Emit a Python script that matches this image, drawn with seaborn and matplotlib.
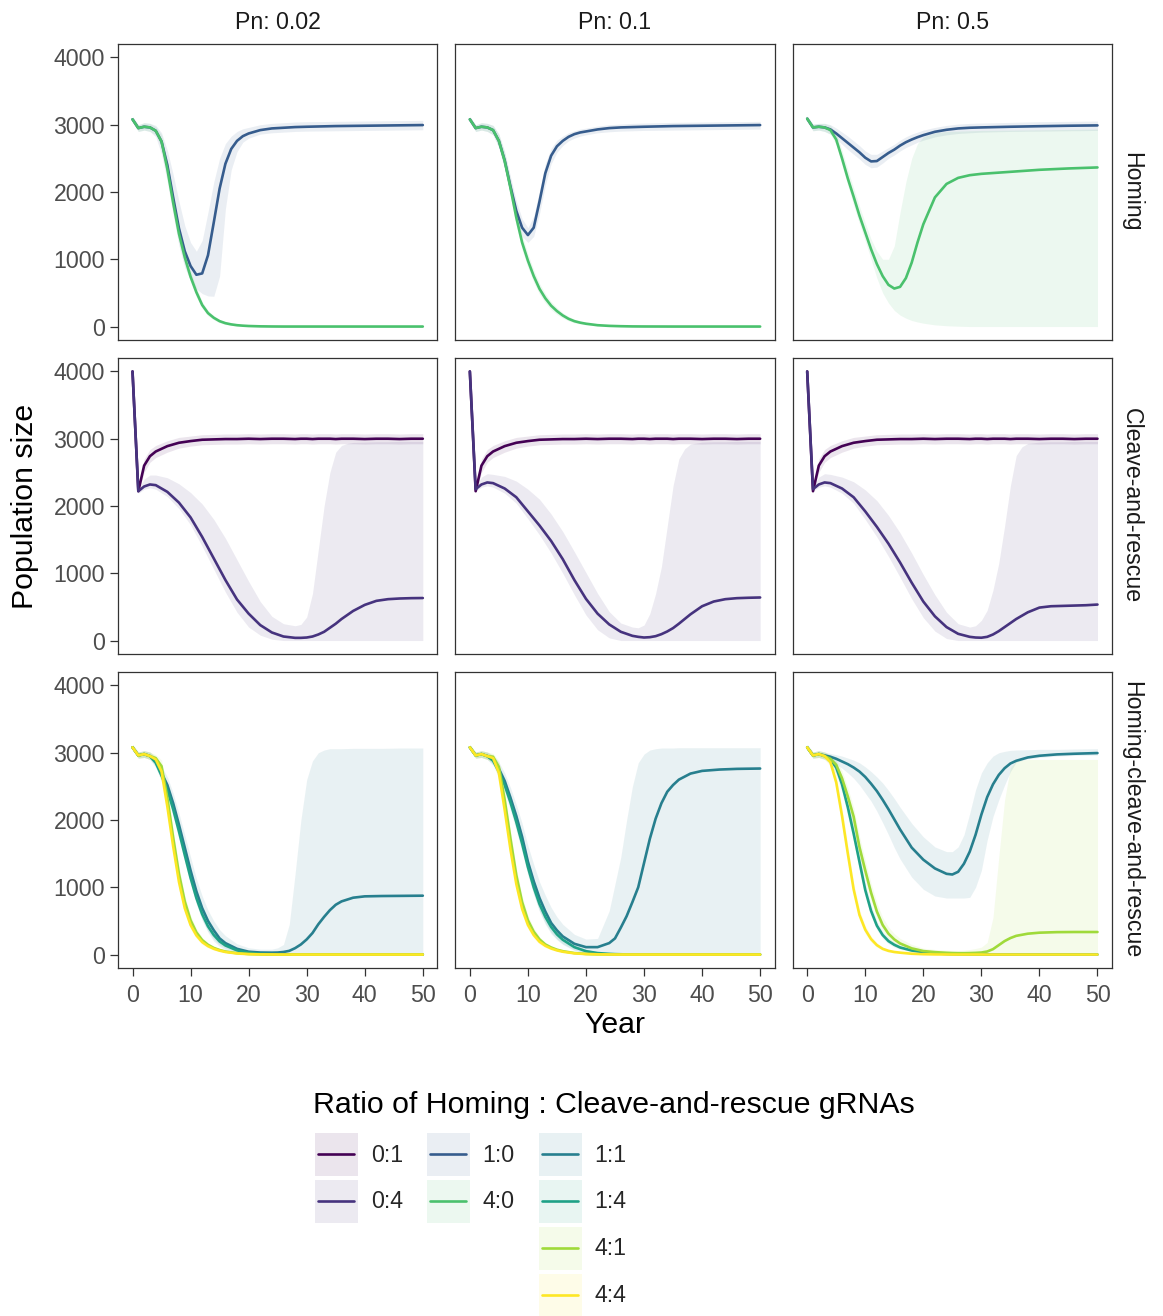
import matplotlib
matplotlib.use("Agg")
import matplotlib.pyplot as plt
import pandas as pd
import seaborn as sns
from matplotlib.patches import Patch, Rectangle
from matplotlib.lines import Line2D
from matplotlib.legend_handler import HandlerBase

# ---------------- labels ----------------
SCENARIOS = ["Homing", "Cleave-and-rescue", "Homing-cleave-and-rescue"]
PN_LABELS = ["Pn: 0.02", "Pn: 0.1", "Pn: 0.5"]
RATIOS = ["0:1", "0:4", "1:0", "1:1", "1:4", "4:0", "4:1", "4:4"]
COLORS = ["#440154", "#46337E", "#365C8D", "#277F8E", "#1FA187", "#4AC16D", "#9FDA3A", "#FDE725"]
X_TICKS = [0, 10, 20, 30, 40, 50]
Y_TICKS = [0, 1000, 2000, 3000, 4000]

# ---------------- year grids ----------------
YEARS_H = [0, 1, 2, 3, 4, 5, 6, 7, 8, 9, 10, 11, 12, 13, 14, 15, 16, 17, 18, 19, 20, 22, 24, 26, 28, 30, 35, 40, 45, 50]
YEARS_C = [0, 1, 2, 3, 4, 6, 8, 10, 12, 14, 16, 18, 20, 22, 24, 26, 28, 29, 30, 31, 32, 33, 34, 35, 36, 37, 38, 40, 42, 44, 46, 48, 50]
YEARS_HC = [0, 1, 2, 3, 4, 5, 6, 7, 8, 9, 10, 11, 12, 13, 14, 15, 16, 18, 20, 22, 24, 25, 26, 27, 28, 29, 30, 31, 32, 33, 34, 35, 36, 38, 40, 43, 46, 50]

# ---------------- Homing ----------------
H1_10 = [3080, 2950, 2970, 2960, 2910, 2750, 2400, 1920, 1460, 1120, 900, 770, 790, 1060, 1550, 2050, 2420, 2640, 2760, 2830, 2870, 2920, 2945, 2955, 2965, 2970, 2980, 2985, 2990, 2995]
H1_10_LO = [3040, 2900, 2920, 2900, 2820, 2560, 2150, 1660, 1200, 880, 680, 560, 490, 455, 450, 750, 1750, 2330, 2600, 2740, 2800, 2860, 2880, 2890, 2900, 2905, 2910, 2915, 2920, 2925]
H1_10_HI = [3120, 3000, 3030, 3020, 2990, 2880, 2620, 2260, 1860, 1500, 1250, 1120, 1280, 1700, 2150, 2500, 2720, 2830, 2900, 2940, 2960, 3000, 3020, 3030, 3040, 3045, 3050, 3055, 3060, 3065]
H1_40 = [3080, 2950, 2970, 2960, 2910, 2750, 2340, 1840, 1380, 1030, 740, 510, 320, 200, 130, 80, 50, 32, 20, 13, 8, 3, 1, 0, 0, 0, 0, 0, 0, 0]
H1_40_LO = [3040, 2900, 2920, 2900, 2850, 2660, 2220, 1720, 1270, 930, 660, 440, 270, 160, 100, 55, 30, 18, 10, 5, 2, 0, 0, 0, 0, 0, 0, 0, 0, 0]
H1_40_HI = [3120, 3000, 3030, 3020, 2970, 2850, 2460, 1960, 1490, 1130, 820, 580, 370, 240, 160, 105, 70, 48, 32, 22, 15, 7, 3, 1, 0, 0, 0, 0, 0, 0]

H2_10 = [3080, 2950, 2970, 2960, 2920, 2760, 2470, 2080, 1720, 1470, 1360, 1470, 1860, 2280, 2540, 2680, 2760, 2820, 2860, 2885, 2900, 2930, 2950, 2960, 2965, 2970, 2980, 2985, 2990, 2995]
H2_10_LO = [3040, 2900, 2920, 2900, 2850, 2660, 2340, 1940, 1590, 1340, 1250, 1340, 1680, 2100, 2420, 2590, 2690, 2760, 2800, 2830, 2850, 2880, 2895, 2905, 2910, 2915, 2920, 2925, 2930, 2935]
H2_10_HI = [3120, 3000, 3030, 3020, 2990, 2860, 2600, 2230, 1870, 1600, 1470, 1640, 2020, 2420, 2650, 2770, 2830, 2880, 2910, 2935, 2950, 2980, 3000, 3010, 3020, 3025, 3035, 3040, 3045, 3050]
H2_40 = [3080, 2950, 2970, 2960, 2920, 2760, 2460, 2060, 1620, 1250, 980, 750, 560, 420, 310, 230, 165, 115, 80, 58, 42, 20, 10, 5, 2, 1, 0, 0, 0, 0]
H2_40_LO = [3040, 2900, 2920, 2900, 2850, 2660, 2340, 1930, 1500, 1140, 880, 660, 480, 350, 250, 180, 125, 85, 55, 38, 25, 10, 4, 1, 0, 0, 0, 0, 0, 0]
H2_40_HI = [3120, 3000, 3030, 3020, 2990, 2860, 2580, 2190, 1740, 1360, 1080, 840, 640, 490, 370, 280, 205, 150, 110, 80, 60, 32, 18, 10, 5, 3, 1, 0, 0, 0]

H3_10 = [3090, 2960, 2970, 2960, 2930, 2870, 2800, 2730, 2660, 2590, 2510, 2455, 2460, 2520, 2580, 2630, 2690, 2740, 2780, 2815, 2845, 2895, 2925, 2945, 2955, 2960, 2970, 2978, 2985, 2990]
H3_10_LO = [3050, 2910, 2920, 2900, 2860, 2790, 2710, 2630, 2560, 2490, 2410, 2360, 2370, 2430, 2500, 2550, 2610, 2660, 2700, 2740, 2770, 2820, 2850, 2870, 2880, 2890, 2900, 2905, 2910, 2915]
H3_10_HI = [3130, 3010, 3020, 3020, 3000, 2950, 2890, 2830, 2760, 2690, 2610, 2560, 2560, 2610, 2660, 2710, 2770, 2820, 2860, 2890, 2920, 2960, 2990, 3010, 3020, 3025, 3035, 3045, 3050, 3055]
H3_40 = [3090, 2960, 2970, 2960, 2920, 2780, 2500, 2200, 1930, 1650, 1400, 1150, 930, 750, 620, 565, 590, 720, 950, 1250, 1520, 1920, 2120, 2210, 2250, 2270, 2300, 2330, 2350, 2365]
H3_40_LO = [3050, 2910, 2920, 2900, 2860, 2700, 2400, 2100, 1800, 1530, 1270, 1000, 720, 500, 350, 240, 170, 125, 90, 68, 50, 25, 12, 5, 0, 0, 0, 0, 0, 0]
H3_40_HI = [3130, 3010, 3020, 3020, 2990, 2870, 2620, 2330, 2060, 1790, 1540, 1300, 1120, 1000, 1000, 1200, 1700, 2150, 2500, 2720, 2820, 2880, 2900, 2905, 2910, 2915, 2920, 2925, 2930, 2935]

# ---------------- Cleave-and-rescue ----------------
C_01 = [4000, 2220, 2600, 2740, 2810, 2890, 2940, 2965, 2985, 2990, 2995, 2995, 3000, 2995, 3000, 3000, 2995, 3000, 3000, 2995, 3000, 3000, 3000, 2995, 3000, 3000, 3000, 2995, 3000, 3000, 2995, 3000, 3000]
C_01_LO = [4000, 2190, 2500, 2650, 2720, 2800, 2860, 2890, 2910, 2915, 2920, 2920, 2925, 2920, 2925, 2925, 2920, 2925, 2925, 2920, 2925, 2925, 2925, 2920, 2925, 2925, 2925, 2920, 2925, 2925, 2920, 2925, 2925]
C_01_HI = [4000, 2260, 2700, 2840, 2900, 2970, 3020, 3040, 3060, 3065, 3070, 3070, 3075, 3070, 3075, 3075, 3070, 3075, 3075, 3070, 3075, 3075, 3075, 3070, 3075, 3075, 3075, 3070, 3075, 3075, 3070, 3075, 3075]

C1_04 = [4000, 2220, 2290, 2320, 2310, 2210, 2050, 1830, 1540, 1220, 900, 610, 400, 230, 120, 60, 40, 40, 45, 60, 90, 130, 190, 250, 320, 380, 440, 530, 590, 615, 625, 630, 632]
C1_04_LO = [4000, 2190, 2250, 2270, 2250, 2140, 1960, 1720, 1400, 1060, 720, 420, 200, 80, 20, 0, 0, 0, 0, 0, 0, 0, 0, 0, 0, 0, 0, 0, 0, 0, 0, 0, 0]
C1_04_HI = [4000, 2250, 2400, 2460, 2460, 2420, 2330, 2200, 2030, 1800, 1520, 1200, 880, 580, 360, 250, 220, 240, 350, 700, 1350, 2000, 2500, 2800, 2900, 2930, 2945, 2950, 2955, 2955, 2960, 2960, 2960]

C2_04 = [4000, 2250, 2320, 2350, 2340, 2260, 2130, 1920, 1710, 1480, 1210, 900, 620, 400, 240, 130, 70, 55, 45, 50, 65, 95, 135, 185, 250, 320, 390, 510, 580, 615, 630, 636, 640]
C2_04_LO = [4000, 2220, 2280, 2300, 2280, 2190, 2040, 1810, 1570, 1300, 1000, 680, 380, 160, 40, 0, 0, 0, 0, 0, 0, 0, 0, 0, 0, 0, 0, 0, 0, 0, 0, 0, 0]
C2_04_HI = [4000, 2280, 2430, 2480, 2470, 2440, 2370, 2250, 2100, 1880, 1620, 1320, 1010, 700, 430, 260, 200, 190, 230, 400, 700, 1100, 1700, 2300, 2700, 2850, 2920, 2950, 2955, 2955, 2960, 2960, 2960]

C3_04 = [4000, 2250, 2320, 2350, 2340, 2260, 2130, 1920, 1690, 1440, 1160, 860, 580, 360, 200, 100, 55, 45, 42, 55, 90, 140, 200, 260, 320, 370, 420, 490, 510, 515, 520, 525, 535]
C3_04_LO = [4000, 2220, 2280, 2300, 2280, 2190, 2040, 1800, 1540, 1250, 940, 620, 340, 140, 30, 0, 0, 0, 0, 0, 0, 0, 0, 0, 0, 0, 0, 0, 0, 0, 0, 0, 0]
C3_04_HI = [4000, 2280, 2430, 2480, 2470, 2430, 2360, 2240, 2080, 1860, 1600, 1300, 980, 680, 420, 250, 200, 220, 300, 450, 750, 1150, 1700, 2300, 2750, 2880, 2930, 2950, 2955, 2955, 2960, 2960, 2960]

# ---------------- Homing-cleave-and-rescue ----------------
HC1_11 = [3080, 2960, 2980, 2950, 2870, 2700, 2520, 2250, 1930, 1590, 1250, 940, 690, 500, 360, 240, 170, 85, 42, 30, 28, 30, 38, 55, 95, 150, 225, 320, 450, 560, 660, 740, 790, 845, 865, 870, 872, 875]
HC1_11_LO = [3040, 2920, 2930, 2900, 2800, 2600, 2400, 2110, 1780, 1420, 1070, 760, 510, 330, 200, 120, 70, 20, 0, 0, 0, 0, 0, 0, 0, 0, 0, 0, 0, 0, 0, 0, 0, 0, 0, 0, 0, 0]
HC1_11_HI = [3120, 3010, 3030, 3010, 2940, 2800, 2640, 2400, 2100, 1780, 1450, 1130, 870, 660, 500, 370, 280, 160, 100, 80, 80, 100, 150, 450, 1200, 2000, 2600, 2880, 3000, 3040, 3060, 3060, 3060, 3065, 3065, 3065, 3070, 3070]
HC1_14 = [3080, 2960, 2980, 2950, 2850, 2660, 2450, 2160, 1830, 1480, 1140, 840, 600, 420, 290, 195, 135, 62, 27, 11, 5, 3, 2, 1, 0, 0, 0, 0, 0, 0, 0, 0, 0, 0, 0, 0, 0, 0]
HC1_14_LO = [3040, 2920, 2930, 2900, 2780, 2570, 2350, 2050, 1720, 1370, 1040, 750, 520, 350, 230, 145, 95, 35, 10, 2, 0, 0, 0, 0, 0, 0, 0, 0, 0, 0, 0, 0, 0, 0, 0, 0, 0, 0]
HC1_14_HI = [3120, 3010, 3030, 3010, 2920, 2750, 2550, 2270, 1940, 1590, 1250, 940, 690, 500, 360, 250, 180, 95, 50, 25, 12, 8, 5, 3, 2, 1, 0, 0, 0, 0, 0, 0, 0, 0, 0, 0, 0, 0]
HC1_41 = [3080, 2960, 2980, 2950, 2920, 2800, 2330, 1740, 1200, 790, 510, 330, 215, 145, 98, 67, 45, 20, 8, 3, 1, 0, 0, 0, 0, 0, 0, 0, 0, 0, 0, 0, 0, 0, 0, 0, 0, 0]
HC1_41_LO = [3040, 2920, 2930, 2900, 2860, 2700, 2200, 1620, 1090, 700, 440, 280, 175, 115, 75, 50, 32, 12, 3, 0, 0, 0, 0, 0, 0, 0, 0, 0, 0, 0, 0, 0, 0, 0, 0, 0, 0, 0]
HC1_41_HI = [3120, 3010, 3030, 3010, 2970, 2890, 2450, 1860, 1310, 880, 580, 385, 255, 175, 120, 85, 60, 30, 14, 6, 3, 2, 1, 0, 0, 0, 0, 0, 0, 0, 0, 0, 0, 0, 0, 0, 0, 0]
HC1_44 = [3080, 2960, 2980, 2950, 2900, 2720, 2200, 1610, 1080, 690, 440, 285, 185, 125, 85, 58, 38, 16, 6, 2, 1, 0, 0, 0, 0, 0, 0, 0, 0, 0, 0, 0, 0, 0, 0, 0, 0, 0]
HC1_44_LO = [3040, 2920, 2930, 2900, 2840, 2610, 2070, 1490, 980, 610, 380, 240, 150, 100, 65, 43, 27, 9, 2, 0, 0, 0, 0, 0, 0, 0, 0, 0, 0, 0, 0, 0, 0, 0, 0, 0, 0, 0]
HC1_44_HI = [3120, 3010, 3030, 3010, 2950, 2810, 2320, 1730, 1180, 770, 500, 330, 220, 150, 105, 73, 50, 24, 11, 5, 2, 1, 0, 0, 0, 0, 0, 0, 0, 0, 0, 0, 0, 0, 0, 0, 0, 0]

HC2_11 = [3080, 2960, 2980, 2950, 2900, 2760, 2580, 2330, 2060, 1750, 1380, 1090, 840, 640, 470, 360, 270, 160, 110, 110, 170, 240, 400, 570, 780, 1000, 1360, 1720, 2020, 2250, 2420, 2520, 2600, 2690, 2730, 2750, 2760, 2765]
HC2_11_LO = [3040, 2920, 2930, 2900, 2830, 2660, 2460, 2190, 1900, 1580, 1200, 900, 640, 450, 310, 220, 150, 60, 15, 0, 0, 0, 0, 0, 0, 0, 0, 0, 0, 0, 0, 0, 0, 0, 0, 0, 0, 0]
HC2_11_HI = [3120, 3010, 3030, 3010, 2960, 2860, 2700, 2480, 2230, 1950, 1620, 1340, 1080, 880, 700, 560, 450, 300, 230, 240, 650, 1050, 1450, 2000, 2500, 2850, 2980, 3040, 3060, 3070, 3070, 3070, 3075, 3075, 3075, 3075, 3075, 3075]
HC2_14 = [3080, 2960, 2980, 2950, 2880, 2720, 2520, 2260, 1970, 1650, 1300, 1000, 750, 560, 410, 300, 220, 110, 50, 22, 10, 6, 4, 2, 1, 0, 0, 0, 0, 0, 0, 0, 0, 0, 0, 0, 0, 0]
HC2_14_LO = [3040, 2920, 2930, 2900, 2810, 2630, 2410, 2140, 1840, 1520, 1180, 890, 650, 470, 330, 230, 160, 70, 25, 8, 2, 0, 0, 0, 0, 0, 0, 0, 0, 0, 0, 0, 0, 0, 0, 0, 0, 0]
HC2_14_HI = [3120, 3010, 3030, 3010, 2950, 2810, 2630, 2380, 2100, 1780, 1420, 1110, 850, 650, 490, 370, 280, 150, 80, 40, 20, 13, 9, 5, 3, 2, 1, 0, 0, 0, 0, 0, 0, 0, 0, 0, 0, 0]
HC2_41 = [3080, 2960, 2980, 2950, 2940, 2790, 2300, 1720, 1180, 780, 510, 340, 225, 150, 105, 72, 50, 22, 9, 4, 1, 0, 0, 0, 0, 0, 0, 0, 0, 0, 0, 0, 0, 0, 0, 0, 0, 0]
HC2_41_LO = [3040, 2920, 2930, 2900, 2880, 2690, 2170, 1600, 1070, 690, 440, 285, 185, 120, 80, 55, 37, 14, 4, 1, 0, 0, 0, 0, 0, 0, 0, 0, 0, 0, 0, 0, 0, 0, 0, 0, 0, 0]
HC2_41_HI = [3120, 3010, 3030, 3010, 2990, 2880, 2420, 1840, 1290, 870, 580, 395, 265, 180, 130, 90, 65, 32, 15, 7, 3, 2, 1, 0, 0, 0, 0, 0, 0, 0, 0, 0, 0, 0, 0, 0, 0, 0]
HC2_44 = [3080, 2960, 2980, 2950, 2920, 2700, 2150, 1560, 1050, 680, 440, 290, 190, 130, 90, 62, 42, 18, 7, 3, 1, 0, 0, 0, 0, 0, 0, 0, 0, 0, 0, 0, 0, 0, 0, 0, 0, 0]
HC2_44_LO = [3040, 2920, 2930, 2900, 2860, 2590, 2020, 1440, 950, 600, 380, 245, 155, 105, 70, 47, 30, 11, 3, 1, 0, 0, 0, 0, 0, 0, 0, 0, 0, 0, 0, 0, 0, 0, 0, 0, 0, 0]
HC2_44_HI = [3120, 3010, 3030, 3010, 2970, 2800, 2270, 1680, 1150, 760, 500, 335, 225, 155, 110, 78, 55, 26, 12, 6, 2, 1, 0, 0, 0, 0, 0, 0, 0, 0, 0, 0, 0, 0, 0, 0, 0, 0]

HC3_11 = [3080, 2960, 2980, 2960, 2940, 2910, 2870, 2830, 2780, 2720, 2640, 2540, 2430, 2300, 2160, 2010, 1860, 1590, 1410, 1280, 1200, 1190, 1230, 1350, 1530, 1780, 2080, 2340, 2530, 2670, 2770, 2840, 2880, 2930, 2955, 2975, 2985, 2995]
HC3_11_LO = [3040, 2920, 2930, 2910, 2880, 2830, 2770, 2700, 2620, 2520, 2400, 2280, 2130, 1960, 1780, 1590, 1420, 1150, 970, 870, 840, 840, 840, 840, 850, 1000, 1250, 1700, 2050, 2300, 2520, 2720, 2860, 2910, 2930, 2950, 2960, 2965]
HC3_11_HI = [3120, 3010, 3030, 3010, 2990, 2970, 2950, 2920, 2890, 2850, 2790, 2720, 2640, 2550, 2440, 2320, 2190, 1950, 1750, 1600, 1530, 1530, 1600, 1780, 2100, 2450, 2700, 2850, 2950, 3000, 3020, 3035, 3040, 3045, 3050, 3050, 3055, 3060]
HC3_14 = [3080, 2960, 2980, 2950, 2900, 2780, 2530, 2190, 1800, 1380, 960, 650, 430, 290, 200, 145, 105, 60, 35, 18, 8, 5, 3, 2, 1, 0, 0, 0, 0, 0, 0, 0, 0, 0, 0, 0, 0, 0]
HC3_14_LO = [3040, 2920, 2930, 2900, 2830, 2680, 2410, 2060, 1670, 1260, 860, 570, 370, 240, 160, 110, 78, 40, 20, 8, 3, 1, 0, 0, 0, 0, 0, 0, 0, 0, 0, 0, 0, 0, 0, 0, 0, 0]
HC3_14_HI = [3120, 3010, 3030, 3010, 2960, 2870, 2650, 2320, 1930, 1500, 1070, 740, 500, 345, 245, 180, 135, 85, 55, 30, 15, 10, 6, 4, 2, 1, 0, 0, 0, 0, 0, 0, 0, 0, 0, 0, 0, 0]
HC3_41 = [3080, 2960, 2980, 2950, 2910, 2820, 2620, 2350, 2050, 1600, 1250, 920, 640, 440, 310, 225, 165, 92, 52, 36, 26, 22, 20, 20, 22, 25, 30, 45, 80, 140, 200, 245, 278, 310, 325, 333, 335, 335]
HC3_41_LO = [3040, 2920, 2930, 2900, 2850, 2730, 2500, 2200, 1900, 1460, 1110, 800, 540, 360, 240, 165, 115, 55, 25, 12, 5, 3, 2, 1, 0, 0, 0, 0, 0, 0, 0, 0, 0, 0, 0, 0, 0, 0]
HC3_41_HI = [3120, 3010, 3030, 3010, 2970, 2900, 2730, 2480, 2190, 1760, 1400, 1060, 770, 550, 410, 310, 240, 150, 95, 75, 65, 62, 60, 65, 75, 90, 110, 180, 550, 1450, 2300, 2780, 2880, 2900, 2900, 2900, 2900, 2900]
HC3_44 = [3080, 2960, 2980, 2950, 2860, 2560, 2060, 1500, 970, 590, 370, 230, 140, 85, 55, 38, 28, 12, 5, 2, 1, 0, 0, 0, 0, 0, 0, 0, 0, 0, 0, 0, 0, 0, 0, 0, 0, 0]
HC3_44_LO = [3040, 2920, 2930, 2900, 2800, 2450, 1930, 1380, 870, 510, 310, 185, 110, 62, 38, 24, 16, 6, 2, 0, 0, 0, 0, 0, 0, 0, 0, 0, 0, 0, 0, 0, 0, 0, 0, 0, 0, 0]
HC3_44_HI = [3120, 3010, 3030, 3010, 2920, 2670, 2190, 1620, 1070, 670, 430, 275, 175, 110, 75, 52, 40, 20, 10, 5, 2, 1, 0, 0, 0, 0, 0, 0, 0, 0, 0, 0, 0, 0, 0, 0, 0, 0]

# (row, col, ratio, years, mean, lower, upper)
SERIES = [
    (0, 0, "1:0", YEARS_H, H1_10, H1_10_LO, H1_10_HI),
    (0, 0, "4:0", YEARS_H, H1_40, H1_40_LO, H1_40_HI),
    (0, 1, "1:0", YEARS_H, H2_10, H2_10_LO, H2_10_HI),
    (0, 1, "4:0", YEARS_H, H2_40, H2_40_LO, H2_40_HI),
    (0, 2, "1:0", YEARS_H, H3_10, H3_10_LO, H3_10_HI),
    (0, 2, "4:0", YEARS_H, H3_40, H3_40_LO, H3_40_HI),
    (1, 0, "0:1", YEARS_C, C_01, C_01_LO, C_01_HI),
    (1, 0, "0:4", YEARS_C, C1_04, C1_04_LO, C1_04_HI),
    (1, 1, "0:1", YEARS_C, C_01, C_01_LO, C_01_HI),
    (1, 1, "0:4", YEARS_C, C2_04, C2_04_LO, C2_04_HI),
    (1, 2, "0:1", YEARS_C, C_01, C_01_LO, C_01_HI),
    (1, 2, "0:4", YEARS_C, C3_04, C3_04_LO, C3_04_HI),
    (2, 0, "1:1", YEARS_HC, HC1_11, HC1_11_LO, HC1_11_HI),
    (2, 0, "1:4", YEARS_HC, HC1_14, HC1_14_LO, HC1_14_HI),
    (2, 0, "4:1", YEARS_HC, HC1_41, HC1_41_LO, HC1_41_HI),
    (2, 0, "4:4", YEARS_HC, HC1_44, HC1_44_LO, HC1_44_HI),
    (2, 1, "1:1", YEARS_HC, HC2_11, HC2_11_LO, HC2_11_HI),
    (2, 1, "1:4", YEARS_HC, HC2_14, HC2_14_LO, HC2_14_HI),
    (2, 1, "4:1", YEARS_HC, HC2_41, HC2_41_LO, HC2_41_HI),
    (2, 1, "4:4", YEARS_HC, HC2_44, HC2_44_LO, HC2_44_HI),
    (2, 2, "1:1", YEARS_HC, HC3_11, HC3_11_LO, HC3_11_HI),
    (2, 2, "1:4", YEARS_HC, HC3_14, HC3_14_LO, HC3_14_HI),
    (2, 2, "4:1", YEARS_HC, HC3_41, HC3_41_LO, HC3_41_HI),
    (2, 2, "4:4", YEARS_HC, HC3_44, HC3_44_LO, HC3_44_HI),
]

frames = []
for r, c, ratio, yrs, m, lo, hi in SERIES:
    assert len(yrs) == len(m) == len(lo) == len(hi), (r, c, ratio, len(yrs), len(m), len(lo), len(hi))
    frames.append(pd.DataFrame({"row": r, "col": c, "ratio": ratio, "year": yrs,
                                "size": m, "lo": lo, "hi": hi}))
df = pd.concat(frames, ignore_index=True)
PALETTE = dict(zip(RATIOS, COLORS))

# ---------------- drawing ----------------
sns.set_theme(style="ticks")
plt.rcParams["font.family"] = ["Liberation Sans", "DejaVu Sans"]

W, H = 1163, 1316
fig, axes = plt.subplots(3, 3, figsize=(W / 100, H / 100), dpi=100, sharex=True, sharey=True)
fig.subplots_adjust(left=118 / W, right=1112 / W, top=1 - 44 / H, bottom=1 - 968 / H,
                    wspace=0.0564, hspace=0.0608)

TICK_FS = 16.7
BASE_FS = 21.8
LW = 1.9
for r in range(3):
    for c in range(3):
        ax = axes[r, c]
        sub = df[(df["row"] == r) & (df["col"] == c)]
        order = [k for k in RATIOS if k in set(sub["ratio"])]
        for ratio in order:
            g = sub[sub["ratio"] == ratio]
            ax.fill_between(g["year"], g["lo"], g["hi"], color=PALETTE[ratio], alpha=0.1, lw=0, zorder=1)
        sns.lineplot(data=sub, x="year", y="size", hue="ratio", hue_order=order, palette=PALETTE,
                     estimator=None, errorbar=None, sort=False, lw=LW, legend=False, ax=ax, zorder=3)
        ax.set_xlim(-2.5, 52.5)
        ax.set_ylim(-200, 4200)
        ax.set_xticks(X_TICKS)
        ax.set_yticks(Y_TICKS)
        ax.set_xlabel("")
        ax.set_ylabel("")
        for sp in ax.spines.values():
            sp.set_visible(True)
            sp.set_color("#333333")
            sp.set_linewidth(0.9)
        ax.tick_params(direction="out", length=5.5, width=0.9, color="#333333",
                       labelsize=TICK_FS, labelcolor="#4D4D4D", pad=4)
        ax.tick_params(axis="x", pad=6)
        if c != 0:
            ax.tick_params(axis="y", length=0, labelleft=False)
        if r != 2:
            ax.tick_params(axis="x", length=0, labelbottom=False)
        if r == 0:
            ax.set_title(PN_LABELS[c], fontsize=TICK_FS, color="#1A1A1A", pad=11)
        if c == 2:
            ax.text(1.026, 0.5, SCENARIOS[r], transform=ax.transAxes, rotation=270,
                    va="center", ha="left", fontsize=TICK_FS, color="#1A1A1A")

fig.text(25 / W, 1 - 506 / H, "Population size", rotation=90, ha="center", va="center",
         fontsize=BASE_FS, color="black")
fig.text(615 / W, 1 - 1025 / H, "Year", ha="center", va="center", fontsize=BASE_FS, color="black")


# ---------------- legend ----------------
class RibbonLineKey(HandlerBase):
    """Legend key: translucent ribbon square with the line through its middle."""

    def create_artists(self, legend, orig_handle, xdescent, ydescent, width, height, fontsize, trans):
        col = orig_handle.get_color()
        rect = Rectangle((-xdescent, -ydescent), width, height, facecolor=col, alpha=0.1,
                         edgecolor="none", transform=trans)
        yc = -ydescent + height / 2
        line = Line2D([-xdescent + 0.08 * width, -xdescent + 0.92 * width], [yc, yc],
                      color=col, lw=LW, transform=trans)
        return [rect, line]


fig.text(313 / W, 1 - 1105 / H, "Ratio of Homing : Cleave-and-rescue gRNAs", ha="left", va="center",
         fontsize=BASE_FS, color="black")
LEGEND_ORDER = ["0:1", "0:4", None, None, "1:0", "4:0", None, None, "1:1", "1:4", "4:1", "4:4"]
handles, labels = [], []
for key in LEGEND_ORDER:
    if key is None:
        handles.append(Patch(facecolor="none", edgecolor="none"))
        labels.append("")
    else:
        handles.append(Line2D([], [], color=PALETTE[key], lw=LW))
        labels.append(key)
fig.legend(handles, labels, ncol=3, loc="upper left", bbox_to_anchor=(315 / W, 1 - 1133 / H),
           frameon=False, fontsize=TICK_FS, handlelength=1.85, handleheight=2.47,
           handletextpad=0.55, columnspacing=1.04, labelspacing=0.17, borderpad=0, borderaxespad=0,
           handler_map={Line2D: RibbonLineKey()})

fig.savefig("out.png", dpi=100)
